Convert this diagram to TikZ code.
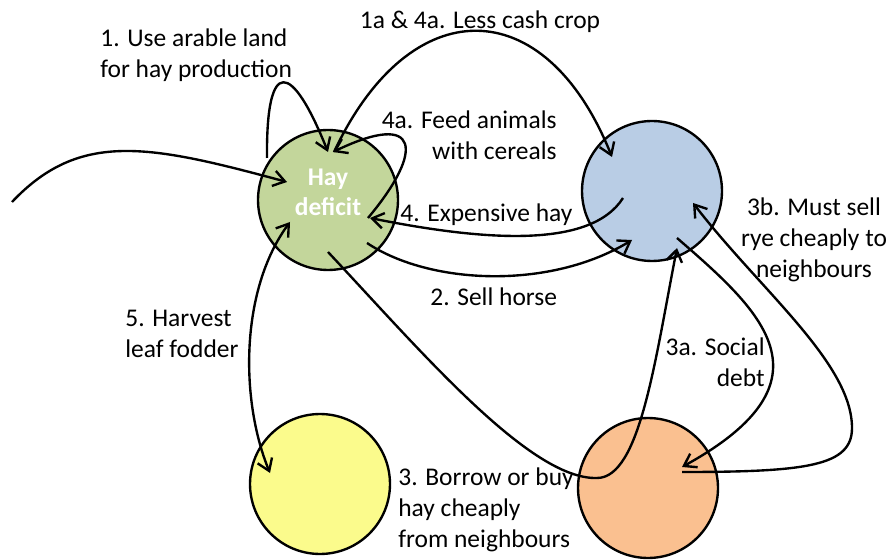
\documentclass[tikz,border=0pt]{standalone}
\usepackage{fontspec}
\setmainfont{Carlito}
\usepackage{tikz}
\usetikzlibrary{arrows.meta, calc}
\definecolor{hayFill}{HTML}{C3D69B}
\definecolor{cashFill}{HTML}{B9CDE5}
\definecolor{leafFill}{HTML}{FBFB8C}
\definecolor{nbrFill}{HTML}{FAC090}
\tikzset{hd/.tip={Straight Barb[length=2.3mm,width=3.1mm]}}

\begin{document}
\begin{tikzpicture}[x=0.02cm, y=-0.02cm, hub/.style={circle, draw, line width=1.35pt, minimum size=2.8cm, inner sep=0pt, align=center, font=\fontsize{14.5}{17}\selectfont\bfseries, text=white}, lbl/.style={inner sep=0pt, font=\fontsize{14.5}{17.5}\selectfont}, lnk/.style={line width=1.35pt, -hd}]
\useasboundingbox (0,0) rectangle (889,560);
\node[hub, fill=hayFill, text depth=0.3cm] (hay) at (328,200) {Hay\\deficit};
\node[hub, fill=cashFill] (cash) at (652,191) {};
\node[hub, fill=leafFill] (leaf) at (320,484) {};
\node[hub, fill=nbrFill] (nbr) at (648,488) {};
\coordinate (src) at (12,202);
\coordinate (bend) at ($(nbr)+(204,-60)$);
\node[lbl, align=left, anchor=west] (tuse) at (100,55) {1. Use arable land\\for hay production};
\node[lbl] (tcash) at (480,22) {1a \& 4a. Less cash crop};
\node[lbl, align=right, anchor=east] (tfeed) at (557,135) {4a. Feed animals\\with cereals};
\node[lbl, anchor=west] (texp) at (400,215) {4. Expensive hay};
\node[lbl, align=center] (trye) at (814,240) {3b. Must sell\\rye cheaply to\\neighbours};
\node[lbl, anchor=west] (thorse) at (430,297) {2. Sell horse};
\node[lbl, align=left, anchor=west] (tfod) at (125,334) {5. Harvest\\leaf fodder};
\node[lbl, align=right, anchor=east] (tdebt) at (765,362) {3a. Social\\debt};
\node[lbl, align=left, anchor=west] (tbuy) at (398,510) {3. Borrow or buy\\hay cheaply\\from neighbours};
% links
\draw[lnk] (src) .. controls +(68,-72) and +(-137,-37) .. ($(hay)+(-41,-18)$);
\draw[lnk] ($(hay)+(-61,-42)$) .. controls +(-1,-103) and +(-36,-90) .. ($(hay)+(0,-48)$);
\draw[lnk] ($(hay)+(6,-48)$) .. controls +(76,-162) and +(-67,-167) .. ($(cash)+(-40,-34)$);
\draw[lnk] ($(hay)+(40,18)$) .. controls +(57,-68) and +(87,-42) .. ($(hay)+(5,-48)$);
\draw[lnk] ($(cash)+(-29,7)$) .. controls +(-33,52) and +(110,22) .. ($(hay)+(42,18)$);
\draw[lnk] ($(hay)+(39,43)$) .. controls +(63,42) and +(-82,50) .. ($(cash)+(-20,49)$);
\draw[lnk] ($(hay)+(0,52)$) .. controls +(92,98) and +(-67,2) .. ($(nbr)+(-51,-10)$) .. controls +(43,0) and +(-22,112) .. ($(cash)+(25,57)$);
\draw[lnk] ($(cash)+(25,47)$) .. controls +(83,72) and +(158,-87) .. ($(nbr)+(34,-21)$);
\draw[lnk] ($(nbr)+(34,-16)$) .. controls +(125,0) and +(0,38) .. (bend) .. controls +(0,-65) and +(67,87) .. ($(cash)+(41,12)$);
\draw[lnk, hd-hd] ($(hay)+(-38,22)$) .. controls +(-50,68) and +(-30,-73) .. ($(leaf)+(-50,-11)$);
\end{tikzpicture}
\end{document}
